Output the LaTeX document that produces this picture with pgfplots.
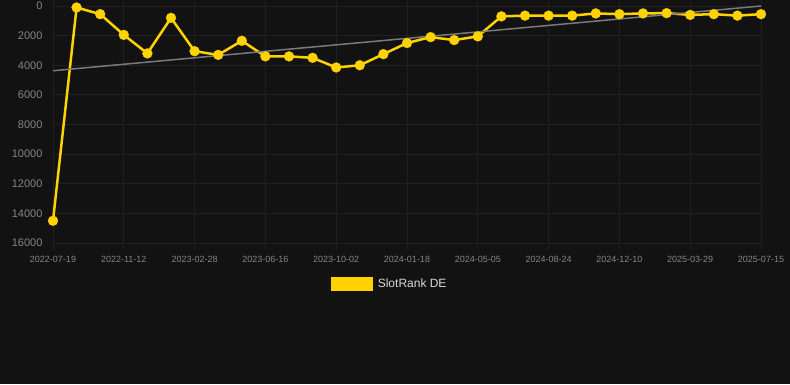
\documentclass[border=0pt]{standalone}
\usepackage{fontspec}
\setmainfont{Liberation Sans}
\usepackage{pgfplots}
\pgfplotsset{compat=1.18}
\definecolor{bg}{HTML}{121212}
\definecolor{gridc}{HTML}{202020}
\definecolor{tickc}{HTML}{858585}
\definecolor{gold}{HTML}{FFD200}
\definecolor{trend}{HTML}{7A7A7A}
\begin{document}
\begin{tikzpicture}
\path[use as bounding box, fill=bg] (-53pt,-141pt) rectangle (737pt,243pt);
\begin{axis}[
  at={(0pt,0pt)}, anchor=south west,
  scale only axis, width=708pt, height=237pt,
  xmin=0, xmax=30, ymin=0, ymax=16000,
  y dir=reverse,
  clip=false,
  axis line style={draw=none},
  grid=major,
  major grid style={gridc, line width=0.8pt},
  xtick={0,3,...,30},
  xticklabels={2022-07-19,2022-11-12,2023-02-28,2023-06-16,2023-10-02,2024-01-18,2024-05-05,2024-08-24,2024-12-10,2025-03-29,2025-07-15},
  ytick={0,2000,...,16000},
  scaled y ticks=false,
  x tick label style={font=\fontsize{9}{11}\selectfont, text=tickc, yshift=-4pt},
  y tick label style={font=\fontsize{11}{13}\selectfont, text=tickc, xshift=-1pt},
  /pgf/number format/assume math mode=true,
  /pgf/number format/1000 sep={},
  xtick style={draw=gridc, line width=0.8pt},
  ytick style={draw=none},
  major tick length=6pt,
  tick align=outside,
  legend style={at={(0.478,-0.173)}, anchor=center, draw=none, fill=none, text=white!85!black, font=\fontsize{12}{14}\selectfont, nodes={inner xsep=5pt}},
  legend cell align=left,
]
\addplot[gold, line width=2.5pt, mark=*, mark size=5pt, mark options={fill=gold, draw=gold, line width=0.2pt},
  legend image code/.code={\fill[gold] (0pt,-6pt) rectangle (39pt,6pt);}]
coordinates {
(0,14500) (1,100) (2,550) (3,1950) (4,3200) (5,800) (6,3050) (7,3300) (8,2350) (9,3400)
(10,3400) (11,3500) (12,4150) (13,4000) (14,3250) (15,2500) (16,2100) (17,2300) (18,2050) (19,700)
(20,650) (21,650) (22,650) (23,500) (24,550) (25,500) (26,480) (27,600) (28,550) (29,650) (30,550)
};
\addlegendentry{SlotRank DE}
\addplot[trend, line width=1.5pt, forget plot] coordinates {(0,4370) (30,0)};
\end{axis}
\end{tikzpicture}
\end{document}
